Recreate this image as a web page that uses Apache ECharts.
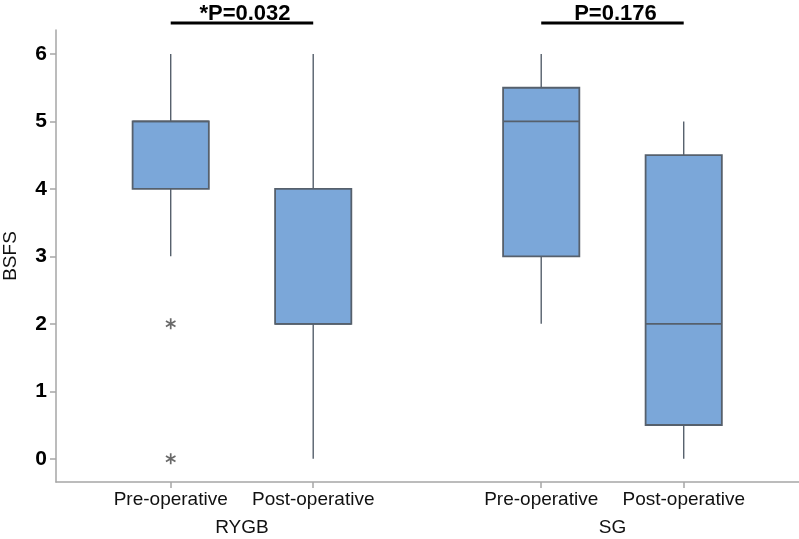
<!DOCTYPE html>
<html>
<head>
<meta charset="utf-8">
<script src="https://cdn.jsdelivr.net/npm/echarts@6/dist/echarts.min.js"></script>
<style>
html, body { margin: 0; padding: 0; background: #fff; }
#chart { width: 799px; height: 539px; }
</style>
</head>
<body>
<div id="chart"></div>
<script>
// box positions on the x value axis (two groups of two boxes)
const positions = [1, 2, 3.6, 4.6];
const categories = ["Pre-operative", "Post-operative", "Pre-operative", "Post-operative"];
const groupPositions = [1.5, 4.1];
const groups = ["RYGB", "SG"];

const mins = [3, 0, 2, 0];
const q1s = [4, 2, 3, 0.5];
const medians = [5, 2, 5, 2];
const q3s = [5, 4, 5.5, 4.5];
const maxs = [6, 6, 6, 5];

// outliers: [x position, value]
const outliers = [[1, 2], [1, 0]];

const yTicks = [0, 1, 2, 3, 4, 5, 6];

// significance brackets
const bracketFrom = [1, 3.6];
const bracketTo = [2, 4.6];
const bracketLabels = ["*P=0.032", "P=0.176"];
const bracketLevel = 6.46;

const FONT = '"Liberation Sans", Arial, sans-serif';
const boxFill = "#7ba7d9";
const boxEdge = "#56606c";
const axisColor = "#a6a6a6";
const boxWidth = 0.535;

const boxData = positions.map((p, i) => [p, mins[i], q1s[i], medians[i], q3s[i], maxs[i]]);
const bracketData = bracketFrom.map((f, i) => [f, bracketTo[i], bracketLevel]);

function findLabel(list, values, v) {
    const i = values.findIndex(p => Math.abs(p - v) < 1e-6);
    return i < 0 ? "" : list[i];
}

function renderBox(params, api) {
    const x = api.value(0);
    const pMin = api.coord([x, api.value(1)]);
    const pQ1 = api.coord([x, api.value(2)]);
    const pMed = api.coord([x, api.value(3)]);
    const pQ3 = api.coord([x, api.value(4)]);
    const pMax = api.coord([x, api.value(5)]);
    const w = api.size([boxWidth, 0])[0];
    const cx = pQ1[0];
    const whisker = { stroke: boxEdge, lineWidth: 1.4 };
    return {
        type: "group",
        children: [
            { type: "line", shape: { x1: cx, y1: pMax[1], x2: cx, y2: pQ3[1] }, style: whisker },
            { type: "line", shape: { x1: cx, y1: pQ1[1], x2: cx, y2: pMin[1] }, style: whisker },
            {
                type: "rect",
                shape: { x: cx - w / 2, y: pQ3[1], width: w, height: pQ1[1] - pQ3[1] },
                style: { fill: boxFill, stroke: boxEdge, lineWidth: 1.8 }
            },
            {
                type: "line",
                shape: { x1: cx - w / 2, y1: pMed[1], x2: cx + w / 2, y2: pMed[1] },
                style: { stroke: boxEdge, lineWidth: 1.8 }
            }
        ]
    };
}

function renderBracket(params, api) {
    const a = api.coord([api.value(0), api.value(2)]);
    const b = api.coord([api.value(1), api.value(2)]);
    return {
        type: "group",
        children: [
            {
                type: "line",
                shape: { x1: a[0], y1: a[1], x2: b[0], y2: a[1] },
                style: { stroke: "#000", lineWidth: 3.2 }
            },
            {
                type: "text",
                x: (a[0] + b[0]) / 2 + 3,
                y: a[1] + 2,
                style: {
                    text: bracketLabels[params.dataIndex],
                    fill: "#000",
                    fontSize: 22,
                    fontWeight: "bold",
                    fontFamily: FONT,
                    align: "center",
                    verticalAlign: "bottom"
                }
            }
        ]
    };
}

const chart = echarts.init(document.getElementById("chart"));

chart.setOption({
    animation: false,
    backgroundColor: "#fff",
    textStyle: { fontFamily: FONT },
    grid: { left: 56, right: 0, top: 30, bottom: 57, outerBoundsMode: "none" },
    xAxis: [
        {
            type: "value",
            min: 0.195,
            max: 5.409,
            position: "bottom",
            splitLine: { show: false },
            axisLine: { show: true, onZero: false, lineStyle: { color: axisColor, width: 1.5 } },
            axisTick: { show: true, customValues: positions, length: 6, lineStyle: { color: axisColor, width: 1.5 } },
            axisLabel: {
                customValues: positions,
                formatter: v => findLabel(categories, positions, v),
                fontSize: 19,
                color: "#111",
                margin: 8
            }
        },
        {
            type: "value",
            min: 0.195,
            max: 5.409,
            position: "bottom",
            offset: 28,
            splitLine: { show: false },
            axisLine: { show: false },
            axisTick: { show: false },
            axisLabel: {
                customValues: groupPositions,
                formatter: v => findLabel(groups, groupPositions, v),
                fontSize: 19,
                color: "#111",
                margin: 8
            }
        }
    ],
    yAxis: {
        type: "value",
        min: -0.345,
        max: 6.356,
        name: "BSFS",
        nameLocation: "middle",
        nameGap: 36,
        nameTextStyle: { fontSize: 19, color: "#111" },
        splitLine: { show: false },
        axisLine: { show: true, onZero: false, lineStyle: { color: axisColor, width: 1.5 } },
        axisTick: { show: true, customValues: yTicks, length: 6, lineStyle: { color: axisColor, width: 1.5 } },
        axisLabel: {
            customValues: yTicks,
            fontSize: 21,
            fontWeight: "bold",
            color: "#000",
            margin: 9
        }
    },
    series: [
        {
            type: "custom",
            name: "box",
            renderItem: renderBox,
            encode: { x: 0, y: [1, 2, 3, 4, 5] },
            data: boxData
        },
        {
            type: "scatter",
            name: "outliers",
            symbol: "path://M5,0 L5,10 M0.67,2.5 L9.33,7.5 M0.67,7.5 L9.33,2.5",
            symbolSize: 11,
            symbolKeepAspect: true,
            itemStyle: { color: "transparent", borderColor: "#444", borderWidth: 1.7 },
            data: outliers
        },
        {
            type: "custom",
            name: "brackets",
            renderItem: renderBracket,
            clip: false,
            encode: { x: [0, 1], y: 2 },
            data: bracketData
        }
    ]
});
</script>
</body>
</html>
